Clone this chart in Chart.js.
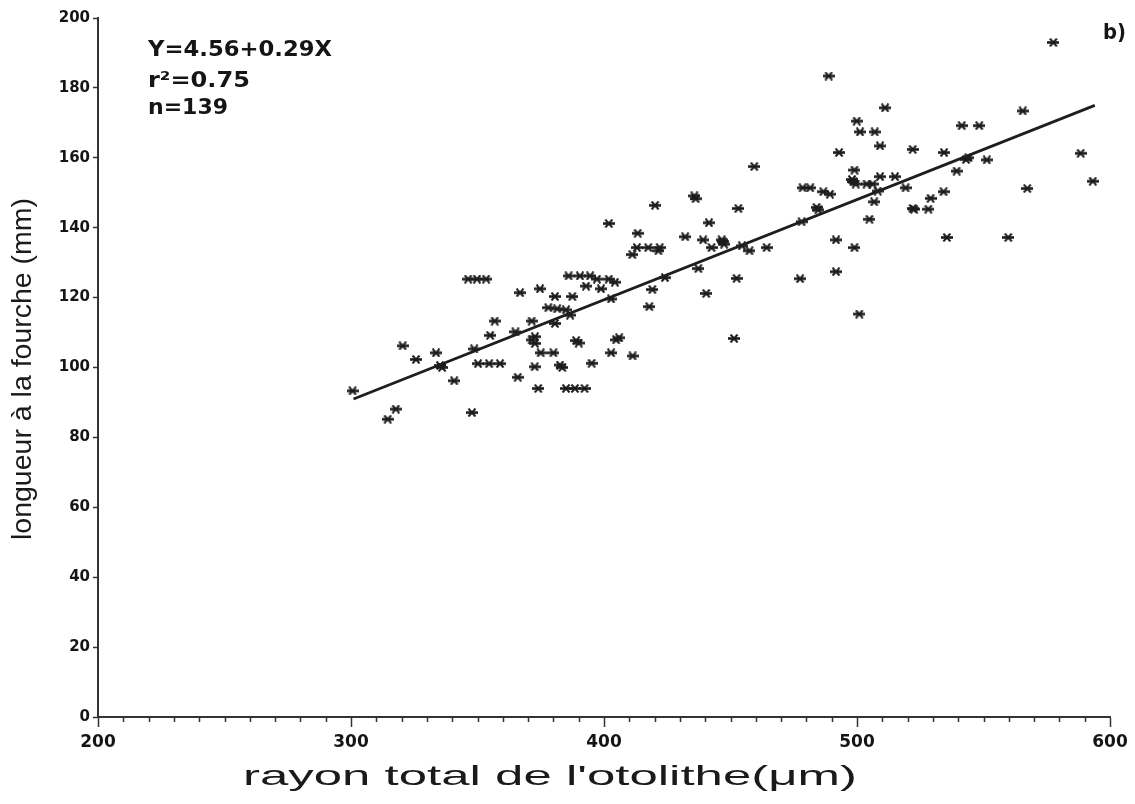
<!DOCTYPE html>
<html><head><meta charset="utf-8">
<script src="https://cdn.jsdelivr.net/npm/chart.js@4.4.1/dist/chart.umd.min.js"></script>
<style>html,body{margin:0;padding:0;background:#fff;}#wrap{width:1135px;height:804px;position:relative;}</style>
</head><body><div id="wrap"><canvas id="c" width="1135" height="804"></canvas></div>
<script>
// ---- data ----
const radiusX = [300.6,317.7,314.5,320.4,325.7,333.6,335.2,336.0,340.8,347.8,346.3,349.8,353.4,348.7,350.2,354.6,358.9,356.8,355.0,365.0,
366.8,365.9,371.4,372.7,372.7,371.4,372.6,374.0,374.7,380.6,387.5,378.0,381.5,385.0,386.6,380.6,375.0,380.0,382.6,383.5,
385.0,388.5,392.3,389.0,390.0,386.0,390.5,394.5,392.9,397.2,401.9,404.3,398.8,402.8,404.8,406.0,402.8,395.1,411.3,401.9,
420.2,435.7,436.2,441.5,432.1,439.2,446.9,447.5,442.5,413.3,413.0,417.5,422.0,411.2,421.5,419.1,417.9,424.1,437.3,440.4,
452.4,451.4,453.1,488.8,511.1,499.9,501.2,507.0,509.1,522.0,492.9,459.4,499.0,498.6,499.5,503.8,506.2,509.1,515.0,519.2,
508.2,506.8,504.9,522.0,478.5,481.5,486.7,489.3,484.7,478.1,454.5,457.5,464.3,491.7,499.0,477.5,491.7,500.9,577.6,565.5,
541.4,548.3,534.4,543.1,544.0,551.3,539.4,588.4,593.2,567.3,534.2,529.1,522.6,528.2,535.5,559.8,446.5,484.0,498.0];
const forkLength = [93.3,88.1,85.2,106.2,102.3,104.2,100.6,100.0,96.2,87.1,125.3,125.3,125.3,105.3,101.1,101.1,101.1,113.3,109.2,110.2,
121.4,97.2,113.3,108.8,106.9,107.9,100.2,94.0,122.5,120.3,120.3,117.1,116.8,116.5,115.0,112.6,104.2,104.2,100.7,100.0,
94.0,94.0,94.0,107.7,107.0,126.2,126.2,126.2,123.3,125.3,125.3,124.4,122.5,119.6,107.9,108.5,104.2,101.2,103.3,141.2,
146.4,149.1,148.3,141.4,137.4,136.5,136.0,135.3,134.3,138.4,134.3,134.3,134.3,132.3,133.4,122.3,117.4,125.7,128.3,121.2,
125.5,108.3,145.5,183.4,174.3,170.5,167.4,167.4,163.4,162.4,161.5,157.5,156.5,153.2,152.5,152.5,152.5,154.6,154.6,151.4,
150.5,147.4,142.4,145.5,151.4,151.4,150.3,149.6,145.1,141.7,134.8,133.4,134.3,136.5,134.3,125.4,127.4,115.3,193.0,173.4,
169.2,169.2,161.5,159.5,160.0,159.4,156.2,161.3,153.3,151.2,150.3,148.4,145.3,145.3,137.2,137.2,136.5,145.8,153.8];
const fitLineX = [301, 594];
const fitLineY = [91, 175];
const xTickValues = [200, 300, 400, 500, 600];
const yTickValues = [0, 20, 40, 60, 80, 100, 120, 140, 160, 180, 200];
const equationText = ['Y=4.56+0.29X', 'r\u00b2=0.75', 'n=139'];
const panelLabel = 'b)';
const xTitle = "rayon total de l'otolithe(\u03bcm)";
const yTitle = 'longueur \u00e0 la fourche (mm)';

// ---- marker glyph ----
function makeStar(){
  const c=document.createElement('canvas'); c.width=12; c.height=9;
  const g=c.getContext('2d'); g.strokeStyle='#1c1c1c';
  g.lineWidth=2.6; g.beginPath(); g.moveTo(0,4.5); g.lineTo(12,4.5); g.stroke();
  g.lineWidth=2; g.beginPath(); g.moveTo(2.5,0.5); g.lineTo(9.5,8.5); g.moveTo(9.5,0.5); g.lineTo(2.5,8.5); g.stroke();
  return c;
}
const star = makeStar();

function fitText(ctx, text, x, y, w, font){
  ctx.font = font;
  const m = ctx.measureText(text).width;
  ctx.save(); ctx.translate(x, y); ctx.scale(w/m, 1); ctx.fillText(text, 0, 0); ctx.restore();
}

const decor = {
  id:'decor',
  afterDraw(chart){
    const ctx = chart.ctx, xs = chart.scales.x;
    const yb = chart.chartArea.bottom;
    ctx.save();
    ctx.strokeStyle='#333'; ctx.lineWidth=1.5;
    for(let v=210; v<600; v+=10){
      if(v%100===0) continue;
      const p = Math.round(xs.getPixelForValue(v))+0.5;
      ctx.beginPath(); ctx.moveTo(p, yb); ctx.lineTo(p, yb+5); ctx.stroke();
    }
    ctx.fillStyle='#151515'; ctx.textAlign='left'; ctx.textBaseline='middle';
    fitText(ctx, equationText[0], 148, 50, 184, 'bold 22px "DejaVu Sans"');
    fitText(ctx, equationText[1], 148, 81, 102, 'bold 22px "DejaVu Sans"');
    fitText(ctx, equationText[2], 148, 108, 80, 'bold 22px "DejaVu Sans"');
    fitText(ctx, panelLabel, 1103, 33, 23, 'bold 22px "DejaVu Sans"');
    // axis titles
    ctx.fillStyle='#1a1a1a';
    fitText(ctx, xTitle, 243, 777, 614, '28px "Liberation Sans"');
    ctx.save(); ctx.translate(23, 540); ctx.rotate(-Math.PI/2);
    fitText(ctx, yTitle, 0, 0, 342, '28px "Liberation Sans Narrow", "Liberation Sans"');
    ctx.restore();
    ctx.restore();
  }
};

new Chart(document.getElementById('c'), {
  type:'scatter',
  data:{ datasets:[
    { type:'line', data: fitLineX.map((x,i)=>({x, y: fitLineY[i]})), borderColor:'#1e1e1e', borderWidth:2.8, pointRadius:0, fill:false, tension:0, order:1 },
    { data: radiusX.map((x,i)=>({x, y: forkLength[i]})), pointStyle: star, pointRadius:5, pointHoverRadius:5, order:2 }
  ]},
  options:{
    responsive:false, animation:false, devicePixelRatio:1,
    layout:{ padding:{ left:0, right:25, top:18, bottom:0 } },
    plugins:{ legend:{display:false}, tooltip:{enabled:false} },
    scales:{
      x:{ type:'linear', min:200, max:600,
        afterBuildTicks: s => { s.ticks = xTickValues.map(v=>({value:v})); },
        afterFit: s => { s.height = 87; },
        border:{ display:true, color:'#333', width:2 },
        grid:{ drawOnChartArea:false, drawTicks:true, tickLength:10, tickColor:'#333', tickWidth:1.5 },
        ticks:{ color:'#151515', font:{ family:'DejaVu Sans', size:17, weight:'bold' }, padding:5, maxRotation:0 }
      },
      y:{ type:'linear', min:0, max:200,
        afterBuildTicks: s => { s.ticks = yTickValues.map(v=>({value:v})); },
        afterFit: s => { s.width = 98; },
        border:{ display:true, color:'#333', width:2 },
        grid:{ drawOnChartArea:false, drawTicks:true, tickLength:5, tickColor:'#333', tickWidth:1.5 },
        ticks:{ color:'#151515', font:{ family:'DejaVu Sans', size:15, weight:'bold' }, padding:3 }
      }
    }
  },
  plugins:[decor]
});
</script></body></html>
